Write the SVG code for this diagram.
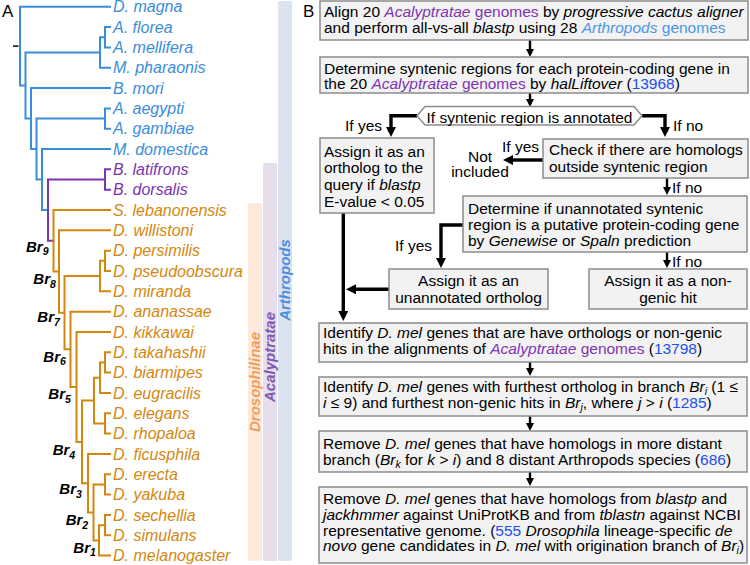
<svg xmlns="http://www.w3.org/2000/svg" width="750" height="565" viewBox="0 0 750 565">
<style>
.sp{font-family:"Liberation Sans",Arial,sans-serif;font-size:16px;font-style:italic}
.cb{fill:#3A8DDB}.cp{fill:#7A34B0}.co{fill:#D4870F}
.eb{fill:none;stroke:#3A8DDB;stroke-width:2;stroke-linecap:square}
.ep{fill:none;stroke:#7A34B0;stroke-width:2;stroke-linecap:square}
.eo{fill:none;stroke:#D4870F;stroke-width:2;stroke-linecap:square}
.br{font-family:"Liberation Sans",Arial,sans-serif;font-size:15px;font-weight:bold;font-style:italic;fill:#000}
.bar{font-family:"Liberation Sans",Arial,sans-serif;font-size:15px;font-weight:bold;font-style:italic;text-anchor:middle}
.t{font-family:"Liberation Sans",Arial,sans-serif;font-size:15.5px;fill:#000}
.m{text-anchor:middle}
.i{font-style:italic}
.pu{fill:#7E35B2}.lb{fill:#4A97E6}.nb{fill:#1C4FF0}
.box{fill:#F2F2F2;stroke:#8C8C8C;stroke-width:1.5}
.ln{fill:none;stroke:#000;stroke-width:2.4}
.lk{fill:none;stroke:#000;stroke-width:3.4;stroke-linejoin:miter}
.pl{font-family:"Liberation Sans",Arial,sans-serif;font-size:17px;fill:#000}
</style>
<defs>
<marker id="ah" viewBox="0 0 8 8" markerWidth="8" markerHeight="8" refX="1" refY="4" orient="auto" markerUnits="userSpaceOnUse"><path d="M0,0 L8,4 L0,8 z" fill="#000"/></marker>
<marker id="ahL" viewBox="0 0 10 10" markerWidth="10" markerHeight="10" refX="1" refY="5" orient="auto" markerUnits="userSpaceOnUse"><path d="M0,0 L10,5 L0,10 z" fill="#000"/></marker>
</defs>
<rect width="750" height="565" fill="#fff"/>

<!-- panel labels -->
<text class="pl" x="2" y="17">A</text>
<text class="pl" x="303" y="17">B</text>

<!-- clade bars -->
<g id="bars">
<rect x="278" y="1" width="14" height="560" rx="2" fill="#DCE3F0"/>
<rect x="263" y="163" width="14" height="398" rx="2" fill="#E6DEEC"/>
<rect x="248" y="203" width="14" height="358" rx="2" fill="#FDEADB"/>
<text class="bar" transform="translate(289.5,280) rotate(-90)" fill="#4B8FDD">Arthropods</text>
<text class="bar" transform="translate(274.5,357) rotate(-90)" fill="#7D5BB2">Acalyptratae</text>
<text class="bar" transform="translate(259.5,382) rotate(-90)" fill="#F39C5E">Drosophilinae</text>
</g>

<!-- tree edges -->
<g id="tree-edges">
<path d="M13,46.1 H18.5" stroke="#000" stroke-width="1.5" fill="none"/>
<path class="eb" d="M20,6.7 V85.5 M20,6.7 H110 M20,85.5 H25.5 M25.5,52.5 V118.5 M25.5,52.5 H100 M100,37.2 V67.7 M100,37.2 H105 M105,27 V47.4 M105,27 H110 M105,47.4 H110 M100,67.7 H110 M25.5,118.5 H31 M31,88 V149 M31,88 H110 M31,149 H36.5 M36.5,118.5 V179.6 M36.5,118.5 H105 M105,108.4 V128.7 M105,108.4 H110 M105,128.7 H110 M36.5,179.6 H42 M42,149 V210.1 M42,149 H110 M42,210.1 H48"/>
<path class="ep" d="M48,179.5 V240.8 M48,179.5 H105 M105,169.3 V189.7 M105,169.3 H110 M105,189.7 H110 M48,240.8 H53.5"/>
<path class="eo" d="M53.5,210 V271.5 M53.5,210 H110 M53.5,271.5 H59 M59,230.3 V312.7 M59,230.3 H110 M59,312.7 H64.5 M64.5,276.1 V349.3 M64.5,276.1 H100 M100,260.8 V291.3 M100,260.8 H105 M105,250.7 V271 M105,250.7 H110 M105,271 H110 M100,291.3 H110 M64.5,349.3 H70.5 M70.5,311.7 V386.9 M70.5,311.7 H110 M70.5,386.9 H76.5 M76.5,332 V441.9 M76.5,332 H110 M76.5,441.9 H82 M82,400.6 V483.2 M82,400.6 H94 M94,377.7 V423.5 M94,377.7 H100 M100,362.5 V393 M100,362.5 H105 M105,352.3 V372.6 M105,352.3 H110 M105,372.6 H110 M100,393 H110 M94,423.5 H105 M105,413.3 V433.6 M105,413.3 H110 M105,433.6 H110 M82,483.2 H88 M88,454 V512.4 M88,454 H110 M88,512.4 H93.5 M93.5,484.5 V540.4 M93.5,484.5 H105 M105,474.3 V494.6 M105,474.3 H110 M105,494.6 H110 M93.5,540.4 H99 M99,525.2 V555.6 M99,525.2 H105 M105,515 V535.3 M105,515 H110 M105,535.3 H110 M99,555.6 H110"/>
</g>

<!-- species -->
<g id="species">
<text class="sp cb" x="113" y="12.2">D. magna</text>
<text class="sp cb" x="113" y="32.5">A. florea</text>
<text class="sp cb" x="113" y="52.9">A. mellifera</text>
<text class="sp cb" x="113" y="73.2">M. pharaonis</text>
<text class="sp cb" x="113" y="93.5">B. mori</text>
<text class="sp cb" x="113" y="113.9">A. aegypti</text>
<text class="sp cb" x="113" y="134.2">A. gambiae</text>
<text class="sp cb" x="113" y="154.5">M. domestica</text>
<text class="sp cp" x="113" y="174.8">B. latifrons</text>
<text class="sp cp" x="113" y="195.2">B. dorsalis</text>
<text class="sp co" x="113" y="215.5">S. lebanonensis</text>
<text class="sp co" x="113" y="235.8">D. willistoni</text>
<text class="sp co" x="113" y="256.2">D. persimilis</text>
<text class="sp co" x="113" y="276.5">D. pseudoobscura</text>
<text class="sp co" x="113" y="296.8">D. miranda</text>
<text class="sp co" x="113" y="317.2">D. ananassae</text>
<text class="sp co" x="113" y="337.5">D. kikkawai</text>
<text class="sp co" x="113" y="357.8">D. takahashii</text>
<text class="sp co" x="113" y="378.1">D. biarmipes</text>
<text class="sp co" x="113" y="398.5">D. eugracilis</text>
<text class="sp co" x="113" y="418.8">D. elegans</text>
<text class="sp co" x="113" y="439.1">D. rhopaloa</text>
<text class="sp co" x="113" y="459.5">D. ficusphila</text>
<text class="sp co" x="113" y="479.8">D. erecta</text>
<text class="sp co" x="113" y="500.1">D. yakuba</text>
<text class="sp co" x="113" y="520.5">D. sechellia</text>
<text class="sp co" x="113" y="540.8">D. simulans</text>
<text class="sp co" x="113" y="561.1">D. melanogaster</text>
</g>

<!-- branch labels -->
<g id="branch-labels">
<text class="br" x="26" y="251.7">Br<tspan font-size="10.5" dy="3.5">9</tspan></text>
<text class="br" x="33.3" y="284.3">Br<tspan font-size="10.5" dy="3.5">8</tspan></text>
<text class="br" x="37.3" y="322.3">Br<tspan font-size="10.5" dy="3.5">7</tspan></text>
<text class="br" x="43.3" y="361.7">Br<tspan font-size="10.5" dy="3.5">6</tspan></text>
<text class="br" x="48.3" y="399.3">Br<tspan font-size="10.5" dy="3.5">5</tspan></text>
<text class="br" x="52.7" y="455">Br<tspan font-size="10.5" dy="3.5">4</tspan></text>
<text class="br" x="59.3" y="494.3">Br<tspan font-size="10.5" dy="3.5">3</tspan></text>
<text class="br" x="65.7" y="525">Br<tspan font-size="10.5" dy="3.5">2</tspan></text>
<text class="br" x="73.3" y="552.7">Br<tspan font-size="10.5" dy="3.5">1</tspan></text>
</g>

<!-- connectors -->
<g id="connectors">
<path class="ln" d="M530,40 V50" marker-end="url(#ah)"/>
<path class="ln" d="M530,93 V100" marker-end="url(#ah)"/>
<path class="lk" d="M417,115.7 H391 V128" marker-end="url(#ahL)"/>
<path class="lk" d="M642,115.7 H665 V128" marker-end="url(#ahL)"/>
<path class="lk" d="M543,160 H512" marker-end="url(#ahL)"/>
<path class="ln" d="M667,178 V188" marker-end="url(#ah)"/>
<path class="lk" d="M463,225 H441 V259" marker-end="url(#ahL)"/>
<path class="ln" d="M667,252 V261" marker-end="url(#ah)"/>
<path class="lk" d="M343.3,213 V312" marker-end="url(#ahL)"/>
<path class="lk" d="M389,289.3 H355" marker-end="url(#ahL)"/>
<path class="ln" d="M530,362 V369" marker-end="url(#ah)"/>
<path class="ln" d="M530,416 V424" marker-end="url(#ah)"/>
<path class="ln" d="M530,472 V479" marker-end="url(#ah)"/>
<text class="t" x="345" y="130.7">If yes</text>
<text class="t" x="673" y="130.5">If no</text>
<text class="t" x="502" y="151.7">If yes</text>
<text class="t" x="672" y="193">If no</text>
<text class="t" x="395" y="250.7">If yes</text>
<text class="t" x="672" y="267">If no</text>
</g>

<!-- flowchart nodes -->
<g id="n-align">
<rect class="box" x="320" y="1" width="428" height="39"/>
<text class="t" x="324" y="17">Align 20 <tspan class="i pu">Acalyptratae</tspan><tspan class="pu"> genomes</tspan> by <tspan class="i">progressive cactus aligner</tspan></text>
<text class="t" x="324" y="33">and perform all-vs-all <tspan class="i">blastp</tspan> using 28 <tspan class="i lb">Arthropods</tspan><tspan class="lb"> genomes</tspan></text>
</g>
<g id="n-synteny">
<rect class="box" x="320" y="57" width="428" height="36"/>
<text class="t" x="324" y="74">Determine syntenic regions for each protein-coding gene in</text>
<text class="t" x="324" y="89">the 20 <tspan class="i pu">Acalyptratae</tspan><tspan class="pu"> genomes</tspan> by <tspan class="i">halLiftover</tspan> (<tspan class="nb">13968</tspan>)</text>
</g>
<g id="n-decision">
<path d="M417,115.7 L425,106.5 H634 L642,115.7 L634,125 H425 Z" fill="#fff" stroke="#8C8C8C" stroke-width="1.5"/>
<text class="t m" x="529.5" y="122.5">If syntenic region is annotated</text>
</g>
<g id="n-ortholog">
<rect class="box" x="320" y="138" width="114" height="75"/>
<text class="t" x="324" y="156.5">Assign it as an</text>
<text class="t" x="324" y="173.2">ortholog to the</text>
<text class="t" x="324" y="190">query if <tspan class="i">blastp</tspan></text>
<text class="t" x="324" y="206.7">E-value &lt; 0.05</text>
</g>
<g id="n-check">
<rect class="box" x="543" y="139" width="205" height="39"/>
<text class="t" x="549" y="155">Check if there are homologs</text>
<text class="t" x="549" y="172">outside syntenic region</text>
</g>
<g id="n-notincluded">
<text class="t m" x="480" y="162">Not</text>
<text class="t m" x="480" y="177">included</text>
</g>
<g id="n-determine">
<rect class="box" x="463" y="196" width="284" height="56"/>
<text class="t" x="468" y="214">Determine if unannotated syntenic</text>
<text class="t" x="468" y="230">region is a putative protein-coding gene</text>
<text class="t" x="468" y="246">by <tspan class="i">Genewise</tspan> or <tspan class="i">Spaln</tspan> prediction</text>
</g>
<g id="n-unannotated">
<rect class="box" x="389" y="269" width="159" height="40"/>
<text class="t m" x="468.5" y="286">Assign it as an</text>
<text class="t m" x="468.5" y="302.5">unannotated ortholog</text>
</g>
<g id="n-nongenic">
<rect class="box" x="589" y="269" width="158" height="40"/>
<text class="t m" x="668" y="286">Assign it as a non-</text>
<text class="t m" x="668" y="302.5">genic hit</text>
</g>
<g id="n-identify">
<rect class="box" x="319" y="323" width="428" height="39"/>
<text class="t" x="323" y="337.7">Identify <tspan class="i">D. mel</tspan> genes that are have orthologs or non-genic</text>
<text class="t" x="323" y="353.5">hits in the alignments of <tspan class="i pu">Acalyptratae</tspan><tspan class="pu"> genomes</tspan> (<tspan class="nb">13798</tspan>)</text>
</g>
<g id="n-branch">
<rect class="box" x="319" y="377" width="428" height="39"/>
<text class="t" x="323" y="391.7">Identify <tspan class="i">D. mel</tspan> genes with furthest ortholog in branch <tspan class="i">Br</tspan><tspan class="i" font-size="10.5" dy="3">i</tspan><tspan dy="-3"> (1 ≤</tspan></text>
<text class="t" x="323" y="407.5"><tspan class="i">i</tspan> ≤ 9) and furthest non-genic hits in <tspan class="i">Br</tspan><tspan class="i" font-size="10.5" dy="3">j</tspan><tspan dy="-3">, where </tspan><tspan class="i">j</tspan> &gt; <tspan class="i">i</tspan> (<tspan class="nb">1285</tspan>)</text>
</g>
<g id="n-remove1">
<rect class="box" x="319" y="431" width="428" height="41"/>
<text class="t" x="323" y="449">Remove <tspan class="i">D. mel</tspan> genes that have homologs in more distant</text>
<text class="t" x="323" y="464.5">branch (<tspan class="i">Br</tspan><tspan class="i" font-size="10.5" dy="3">k</tspan><tspan dy="-3"> for </tspan><tspan class="i">k</tspan> &gt; <tspan class="i">i</tspan>) and 8 distant Arthropods species (<tspan class="nb">686</tspan>)</text>
</g>
<g id="n-remove2">
<rect class="box" x="319" y="487" width="428" height="76"/>
<text class="t" x="323" y="504">Remove <tspan class="i">D. mel</tspan> genes that have homologs from <tspan class="i">blastp</tspan> and</text>
<text class="t" x="323" y="520"><tspan class="i">jackhmmer</tspan> against UniProtKB and from <tspan class="i">tblastn</tspan> against NCBI</text>
<text class="t" x="323" y="535.5">representative genome. (<tspan class="nb">555</tspan> <tspan class="i">Drosophila</tspan> lineage-specific <tspan class="i">de</tspan></text>
<text class="t" x="323" y="551"><tspan class="i">novo</tspan> gene candidates in <tspan class="i">D. mel</tspan> with origination branch of <tspan class="i">Br</tspan><tspan class="i" font-size="10.5" dy="3">i</tspan><tspan dy="-3">)</tspan></text>
</g>
</svg>
